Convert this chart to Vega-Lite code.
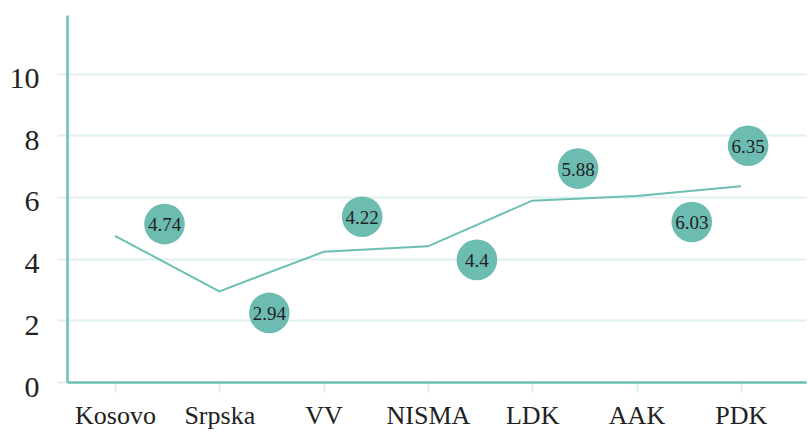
{
  "$schema": "https://vega.github.io/schema/vega-lite/v6.json",
  "width": 739,
  "height": 367,
  "autosize": {"type": "none"},
  "padding": {"left": 67, "top": 15, "right": 2, "bottom": 50},
  "background": "white",
  "config": {
    "view": {"stroke": null},
    "font": "Liberation Serif"
  },
  "data": {
    "values": [
      {"party": "Kosovo", "idx": 0, "value": 4.74, "bubble_x": 0.475, "bubble_y": 5.12},
      {"party": "Srpska", "idx": 1, "value": 2.94, "bubble_x": 1.48, "bubble_y": 2.24},
      {"party": "VV", "idx": 2, "value": 4.22, "bubble_x": 2.37, "bubble_y": 5.36},
      {"party": "NISMA", "idx": 3, "value": 4.4, "bubble_x": 3.47, "bubble_y": 3.96},
      {"party": "LDK", "idx": 4, "value": 5.88, "bubble_x": 4.44, "bubble_y": 6.92},
      {"party": "AAK", "idx": 5, "value": 6.03, "bubble_x": 5.53, "bubble_y": 5.19},
      {"party": "PDK", "idx": 6, "value": 6.35, "bubble_x": 6.07, "bubble_y": 7.66}
    ]
  },
  "layer": [
    {
      "mark": {"type": "line", "color": "#6dbfb4", "strokeWidth": 2},
      "encoding": {
        "x": {
          "field": "idx", "type": "quantitative",
          "scale": {"domain": [-0.46, 6.625], "nice": false, "zero": false},
          "axis": {
            "title": null,
            "values": [0, 1, 2, 3, 4, 5, 6],
            "labelExpr": "['Kosovo','Srpska','VV','NISMA','LDK','AAK','PDK'][datum.value]",
            "grid": false,
            "domainColor": "#6dbfb4",
            "domainWidth": 2.5,
            "tickColor": "#e0f2ef",
            "tickWidth": 2,
            "tickSize": 10,
            "labelFont": "Liberation Serif",
            "labelFontSize": 26,
            "labelColor": "#222222",
            "labelPadding": 10,
            "labelFlush": false
          }
        },
        "y": {
          "field": "value", "type": "quantitative",
          "scale": {"domain": [0, 11.9], "nice": false},
          "axis": {
            "title": null,
            "values": [0, 2, 4, 6, 8, 10],
            "grid": true,
            "gridColor": "#e0f2ef",
            "gridWidth": 2,
            "domainColor": "#6dbfb4",
            "domainWidth": 2.5,
            "tickColor": "#e0f2ef",
            "tickWidth": 2,
            "tickSize": 10,
            "labelFont": "Liberation Serif",
            "labelFontSize": 30,
            "labelColor": "#222222",
            "labelPadding": 18,
            "labelOffset": 5
          }
        }
      }
    },
    {
      "mark": {"type": "circle", "color": "#6dbcb2", "opacity": 1, "size": 1650},
      "encoding": {
        "x": {"field": "bubble_x", "type": "quantitative"},
        "y": {"field": "bubble_y", "type": "quantitative"}
      }
    },
    {
      "mark": {"type": "text", "font": "Liberation Serif", "fontSize": 19, "color": "#222222", "baseline": "middle", "align": "center", "dy": 1},
      "encoding": {
        "x": {"field": "bubble_x", "type": "quantitative"},
        "y": {"field": "bubble_y", "type": "quantitative"},
        "text": {"field": "value", "type": "nominal"}
      }
    }
  ]
}
